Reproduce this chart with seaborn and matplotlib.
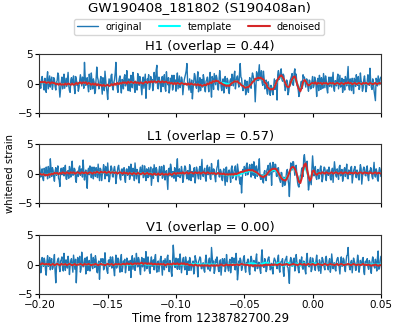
import numpy as np
import pandas as pd
import matplotlib
matplotlib.use("Agg")
import matplotlib.pyplot as plt
import seaborn as sns

title = "GW190408_181802 (S190408an)"
detectors = ["H1", "L1", "V1"]
overlaps = [0.44, 0.57, 0.00]
gps_ref = "1238782700.29"
t_start, t_end = -0.20, 0.05
xticks = [-0.20, -0.15, -0.10, -0.05, 0.00, 0.05]
yticks = [-5, 0, 5]

# original strain: samples on the whole-ms grid and on the half-ms points between them
h1_original = [
    0.4, -0.8, 1.2, -0.3, 0.9, -1.5, 2.0, 0.2, -0.6, 1.1,
    -0.2, 0.7, -1.1, 0.5, 1.4, -2.3, 0.3, -0.9, 1.6, 0.1,
    -0.5, 1.9, -1.2, 0.6, -0.1, 1.3, -1.7, 0.8, 0.2, -0.7,
    1.5, -0.4, 0.9, 3.6, -0.3, 1.0, -1.4, 0.5, 1.8, -0.9,
    0.3, -1.3, 2.8, 0.6, -0.5, 1.2, -1.8, 0.4, 2.1, -0.6,
    -2.7, 0.8, -0.2, 1.6, -1.1, 0.7, 3.6, -0.8, 0.2, 1.3,
    -1.6, 0.5, 1.0, -0.4, 2.2, -1.2, 0.3, 1.4, -0.7, 0.9,
    -1.5, 0.2, 1.7, -0.3, 0.6, -1.9, 1.1, 0.4, -2.5, 0.8,
    1.5, -0.6, 0.3, -1.2, 1.9, 0.1, 3.1, -0.9, 0.5, -1.4,
    1.2, 0.6, -0.8, 2.0, -0.2, -1.6, 0.9, 1.4, -0.5, 0.3,
    -1.3, 1.8, 0.2, -0.7, 1.1, -1.9, 0.6, 1.6, 3.4, -0.4,
    0.8, -1.5, -2.6, 0.5, 1.3, -0.8, 2.0, -0.3, -1.2, 0.7,
    1.5, -0.9, 0.4, 1.1, -1.4, 1.9, -2.3, 0.6, 1.7, -0.2,
    0.9, -1.1, 2.2, -0.5, 0.3, -1.6, 1.2, -0.8, 0.5, -1.7,
    0.8, 1.6, -0.4, 2.1, 0.2, 1.3, -0.6, 3.4, 0.9, -1.2,
    -0.3, -1.9, 0.4, -1.5, 1.0, -0.8, 1.8, 0.6, -3.1, 2.0,
    0.5, 3.2, 1.4, 0.2, 2.1, -0.9, 0.6, -1.8, -0.4, -2.0,
    -0.6, -1.9, 0.8, 0.3, -2.8, 2.2, 0.9, 2.5, 0.4, 1.3,
    -1.2, 0.6, -1.9, -0.2, 0.8, 1.7, -0.3, 2.5, 1.6, -0.5,
    -2.2, -0.9, 0.4, 1.5, 1.1, -0.6, 0.7, -1.3, 0.5, -0.8,
    1.2, -0.4, 0.6, -2.2, 0.9, 1.4, -1.0, 0.3, 1.7, -0.7,
    0.5, -1.6, 1.1, 0.2, -0.6, 1.9, -1.3, 0.4, 0.8, -0.9,
    1.4, -0.2, -1.5, 0.7, 1.2, -0.4, 2.9, -1.1, 0.3, 0.9,
    -1.7, 0.6, 1.5, -0.3, -1.0, 1.8, 0.2, -0.8, 1.3, -1.4,
    0.4, 1.0, 2.6, -0.6, 0.8, -1.2, -2.9, 0.5, 1.3, -0.2,
    1.1,
]
h1_original_mid = [
    -0.3, 0.6, 0.5, -1.1, -0.2, 0.8, -0.9, 1.3, 0.4, -1.0,
    1.0, -0.5, 0.2, 1.8, -0.7, -1.0, 1.1, 0.5, -0.8, 0.9,
    0.7, -0.4, -1.5, 1.0, 0.4, -0.6, 1.2, -0.3, -1.3, 0.5,
    0.6, 1.1, -0.8, 1.2, 0.7, -0.5, 1.6, -1.0, 0.3, 0.8,
    -1.7, 0.9, 1.1, -0.9, 0.5, -0.3, 1.0, -1.2, 0.7, -1.4,
    -0.5, 0.3, 1.4, -0.6, 0.2, 1.8, 0.5, -1.5, 0.9, -0.4,
    0.7, -0.9, 1.5, 0.3, -0.5, 0.8, -1.3, 0.6, 1.9, -0.7,
    0.4, -1.1, 0.9, 1.2, -0.6, 0.3, -0.8, 1.6, -0.3, 0.5,
    -1.0, 1.2, 0.7, -0.4, 0.6, 2.3, -0.6, 1.1, -0.2, 0.9,
    -0.5, 1.5, -1.3, 0.4, 1.0, -0.7, 0.2, -1.1, 1.4, 0.6,
    0.5, -0.9, 1.3, -0.2, 0.7, -0.6, 1.1, 2.2, 0.3, -1.1,
    -0.4, 0.6, -0.9, 1.7, -0.3, 0.8, -1.4, 1.0, 0.2, -0.6,
    0.8, -1.4, 0.6, -0.3, 0.9, -0.5, 1.2, -1.0, 0.7, 1.4,
    -0.6, 0.5, 1.0, -1.2, 0.8, -0.4, -0.3, 0.9, -1.2, 0.4,
    -0.3, 0.7, 1.4, -0.9, 1.0, 0.2, 1.8, 1.1, -0.4, -0.9,
    0.6, -1.3, -0.8, 0.2, -0.4, 0.9, 1.3, -0.2, -0.5, 1.4,
    1.9, 0.6, 2.2, -0.3, 0.9, -0.4, -1.2, 0.3, -1.6, -0.3,
    -1.4, -0.5, -1.0, 0.6, 1.5, 0.7, 1.9, 0.8, 1.6, -0.3,
    -0.6, 0.3, -1.4, 0.5, 1.2, -0.2, 1.9, 0.9, -0.2, -1.1,
    -1.6, 0.3, -0.8, 1.0, 0.2, 0.8, -0.5, 0.6, -0.9, 0.4,
    -0.7, 1.1, -0.3, 0.5, -1.2, 0.6, 1.0, -0.8, 0.4, 1.3,
    -0.9, 0.2, -0.5, 1.1, 0.7, -0.8, 0.5, -0.4, 1.6, 0.3,
    -0.6, 0.9, -0.2, -1.1, 0.6, 1.3, -0.5, 0.8, -1.2, 0.2,
    0.9, -0.5, 0.4, 1.2, -0.7, 0.5, -1.3, 0.7, 0.2, -0.8,
    1.5, -0.3, 0.6, -1.0, 0.3, -2.0, 0.9, -0.4, 0.6, 0.8,
]
h1_template = [
    0.2, 0.2, 0.2, 0.2, 0.2, 0.2, 0.2, 0.1, 0.1, 0.1,
    0.1, 0.0, 0.0, 0.0, -0.1, -0.1, -0.1, -0.1, -0.1, -0.1,
    -0.1, -0.1, -0.1, -0.1, -0.1, -0.1, -0.1, 0.0, 0.0, 0.0,
    0.1, 0.1, 0.1, 0.1, 0.1, 0.0, 0.0, 0.0, -0.1, -0.1,
    -0.1, -0.1, -0.2, -0.2, -0.2, -0.2, -0.3, -0.3, -0.3, -0.3,
    -0.3, -0.3, -0.3, -0.2, -0.2, -0.1, -0.1, 0.0, 0.0, 0.0,
    0.1, 0.1, 0.1, 0.1, 0.1, 0.2, 0.2, 0.2, 0.2, 0.2,
    0.2, 0.2, 0.1, 0.1, 0.1, 0.1, 0.1, 0.2, 0.2, 0.2,
    0.2, 0.3, 0.3, 0.3, 0.3, 0.3, 0.3, 0.3, 0.3, 0.3,
    0.3, 0.3, 0.3, 0.2, 0.2, 0.1, 0.1, 0.0, 0.0, 0.0,
    0.0, 0.0, 0.0, 0.0, 0.0, 0.0, 0.0, -0.1, -0.1, -0.1,
    -0.1, -0.1, -0.1, -0.1, -0.2, -0.2, -0.2, -0.2, -0.3, -0.3,
    -0.3, -0.3, -0.2, -0.1, 0.0, 0.1, 0.2, 0.3, 0.4, 0.4,
    0.4, 0.3, 0.2, 0.1, 0.1, 0.1, 0.0, 0.0, -0.1, -0.1,
    0.0, 0.1, 0.2, 0.3, 0.4, 0.3, 0.2, 0.0, -0.2, -0.4,
    -0.5, -0.6, -0.6, -0.5, -0.3, 0.0, 0.3, 0.5, 0.7, 0.8,
    0.9, 0.9, 0.9, 0.8, 0.6, 0.3, -0.1, -0.5, -0.8, -0.9,
    -0.9, -0.8, -0.5, -0.1, 0.4, 0.8, 1.1, 1.2, 1.0, 0.6,
    0.1, -0.3, -0.5, -0.4, 0.1, 0.6, 0.9, 0.8, 0.4, -0.2,
    -0.7, -0.9, -0.6, 0.0, 0.4, 0.4, 0.1, -0.2, -0.2, -0.1,
    0.0, 0.1, 0.1, 0.0, 0.0, 0.0, 0.0, 0.0, 0.0, 0.0,
    0.0, 0.0, 0.0, 0.0, 0.0, 0.0, 0.0, 0.0, 0.0, 0.0,
    0.0, 0.0, 0.0, 0.0, 0.0, 0.0, 0.0, 0.0, 0.0, 0.0,
    0.0, 0.0, 0.0, 0.0, 0.0, 0.0, 0.0, 0.0, 0.0, 0.0,
    0.0, 0.0, 0.0, 0.0, 0.0, 0.0, 0.0, 0.0, 0.0, 0.0,
    0.0,
]
h1_denoised = [
    0.3, 0.2, 0.3, 0.2, 0.3, 0.1, 0.2, 0.2, 0.0, 0.2,
    0.1, 0.1, -0.1, 0.0, -0.2, 0.0, -0.2, -0.1, -0.2, 0.0,
    -0.2, 0.0, -0.1, -0.2, 0.0, -0.2, -0.1, 0.1, -0.1, 0.1,
    0.2, 0.0, 0.2, 0.1, 0.2, -0.1, 0.1, 0.0, -0.2, 0.0,
    -0.2, 0.0, -0.3, -0.1, -0.3, -0.2, -0.4, -0.2, -0.4, -0.3,
    -0.2, -0.4, -0.3, -0.1, -0.3, 0.0, -0.2, 0.1, -0.1, 0.1,
    0.0, 0.2, 0.1, 0.2, 0.0, 0.3, 0.1, 0.3, 0.2, 0.1,
    0.3, 0.1, 0.2, 0.0, 0.2, 0.1, 0.0, 0.2, 0.3, 0.1,
    0.3, 0.2, 0.4, 0.2, 0.4, 0.3, 0.2, 0.4, 0.3, 0.2,
    0.4, 0.2, 0.3, 0.3, 0.1, 0.2, 0.0, 0.1, -0.1, 0.1,
    -0.1, 0.1, 0.0, -0.1, 0.1, 0.0, -0.1, 0.0, -0.2, 0.0,
    -0.2, 0.0, -0.1, -0.2, -0.1, -0.3, -0.1, -0.3, -0.2, -0.4,
    -0.3, -0.2, -0.3, 0.0, -0.1, 0.2, 0.1, 0.4, 0.3, 0.5,
    0.4, 0.4, 0.1, 0.1, -0.1, -0.2, -0.3, -0.4, -0.3, -0.4,
    -0.1, 0.1, 0.2, 0.4, 0.3, 0.4, 0.1, 0.0, -0.3, -0.4,
    -0.6, -0.7, -0.6, -0.6, -0.3, -0.1, 0.3, 0.4, 0.8, 0.8,
    1.0, 0.9, 1.0, 0.8, 0.7, 0.2, 0.0, -0.6, -0.8, -1.0,
    -0.9, -1.0, -0.6, -0.1, 0.5, 0.9, 1.2, 1.4, 1.1, 0.7,
    0.1, -0.4, -0.6, -0.5, 0.2, 0.7, 1.1, 1.2, 0.5, -0.3,
    -0.9, -1.3, -0.7, 0.2, 0.6, 0.4, 0.0, -0.3, -0.2, 0.0,
    0.1, 0.0, 0.2, -0.1, 0.1, 0.0, 0.1, -0.1, 0.1, 0.0,
    0.1, -0.1, 0.0, 0.1, 0.0, 0.1, -0.1, 0.0, 0.1, 0.0,
    -0.1, 0.1, 0.0, -0.1, 0.1, 0.0, 0.2, 0.0, 0.1, -0.1,
    0.0, 0.1, -0.1, 0.0, 0.1, 0.0, -0.1, 0.1, 0.0, 0.1,
    0.0, -0.1, 0.1, 0.0, -0.1, 0.0, 0.1, -0.1, 0.0, 0.1,
    0.0,
]

l1_original = [
    1.5, -0.6, 0.8, -1.2, 0.3, 1.1, -0.9, 0.4, 2.5, -0.5,
    0.6, -1.3, 1.0, 0.2, -0.8, -2.2, 0.9, 0.3, -0.4, 1.4,
    -1.0, 0.5, 1.2, -0.6, 2.1, -0.2, 0.7, -1.5, 0.4, 1.0,
    -0.3, 0.8, 2.3, -1.1, 0.6, -2.5, 0.9, 1.3, -0.7, 0.2,
    1.1, -0.5, 0.4, 1.6, -1.2, 0.7, -0.2, 1.5, -0.9, 0.3,
    1.8, -1.4, 0.5, 0.9, -0.6, 1.2, -1.7, 0.2, 1.4, -0.8,
    0.6, -0.3, 1.0, -1.5, 0.8, 0.1, -1.0, 1.6, -0.4, 0.5,
    1.8, -0.9, 0.3, -1.6, 1.1, 0.4, -0.7, 1.3, -1.2, 0.6,
    1.0, -0.5, -2.0, 0.8, 1.5, -0.3, 0.6, -1.4, 1.2, 0.2,
    -0.8, 1.4, -1.1, 0.5, -2.7, 0.9, 1.6, -0.6, 0.3, 1.0,
    -1.3, 2.5, 0.1, -0.7, 1.2, -1.5, 0.6, 1.0, -0.9, 0.4,
    1.5, -1.2, 0.3, 0.8, -1.6, 1.1, -0.4, 0.7, -1.0, 2.4,
    -0.5, 0.9, -1.3, 1.4, 0.2, -0.8, 1.7, -0.2, 0.6, -1.4,
    1.0, 2.3, -0.6, 0.4, -1.2, 0.8, -2.0, 1.1, -0.3, 0.6,
    -1.5, 1.3, -0.4, 0.9, -1.1, 1.6, -0.2, -1.8, -3.3, 0.7,
    1.2, -0.3, 1.8, 0.1, 1.5, -0.6, 1.0, 2.0, -0.8, 1.3,
    0.4, 2.5, -1.0, -0.2, -1.6, 0.5, -1.2, 0.9, -0.3, 1.8,
    -2.0, 1.9, 0.6, 1.5, -0.5, 1.0, -1.1, 0.2, -2.2, -0.6,
    -1.9, 0.4, -1.0, -3.9, 1.8, 0.6, 2.0, -0.3, 1.4, -1.5,
    -2.3, -0.4, 0.8, -0.5, 3.2, 1.3, 2.1, -2.8, -0.7, -1.9,
    3.0, -0.4, 1.2, -1.0, 0.7, -0.6, 1.3, -1.4, 0.5, 0.9,
    -1.2, 0.6, 1.1, -0.8, 0.3, -1.5, 2.0, -0.3, 0.8, -1.0,
    1.4, 0.2, -1.3, 0.7, -0.5, 1.6, -0.9, 0.4, 1.0, -1.6,
    0.5, 1.2, -0.7, 0.3, -1.1, 1.5, -1.8, 0.6, 0.9, -0.4,
    1.3, -1.2, 0.2, 0.8, -0.9, 1.9, -0.6, 0.4, -1.3, 1.0,
    -0.5,
]
l1_original_mid = [
    0.5, -0.2, -0.8, 0.9, -0.4, 0.2, 1.2, -0.7, 0.8, 1.0,
    -0.6, 0.4, -0.3, 1.3, -1.1, 0.5, -0.2, 1.0, 0.6, -0.9,
    0.3, -0.8, 0.6, 1.1, -0.3, 0.9, -1.0, 0.2, -0.5, 1.3,
    0.7, -0.6, 0.4, 0.2, -1.3, 0.5, -0.2, 0.8, 1.1, -0.9,
    0.6, 1.0, -0.7, 0.3, 0.9, -1.2, 0.4, 0.6, 1.2, -0.4,
    0.2, -0.9, 1.3, -0.5, 0.7, 0.3, -0.6, 1.1, 0.4, -1.1,
    0.8, 0.5, -0.9, 0.6, -0.3, 1.2, -0.5, 0.3, 0.9, -1.2,
    0.4, 0.7, -1.0, 0.5, -0.2, 1.4, -0.6, 0.2, 0.8, -0.7,
    0.3, 1.1, -0.5, -0.8, 0.6, 1.0, -0.9, 0.4, -0.3, 1.2,
    -0.6, 0.5, 0.2, -1.0, 0.7, -0.4, 1.0, 0.3, -0.8, 0.6,
    1.1, -0.5, 0.8, -0.3, 0.4, -0.8, 1.3, -0.2, 0.5, -1.1,
    0.9, 0.3, -0.6, 1.0, -0.4, 0.6, -0.9, 1.2, 0.7, -0.3,
    0.5, -0.7, 0.9, -0.2, 1.1, -1.0, 0.4, 0.8, -0.6, 0.3,
    1.4, -0.5, 0.7, -0.9, 0.3, -0.6, 1.0, -1.4, 0.5, -0.2,
    0.9, -0.8, 0.4, 1.3, -0.5, 0.7, -1.2, -0.6, -1.0, 0.2,
    0.8, 1.4, -0.2, 1.0, 0.6, 1.6, -0.3, 0.9, 1.2, -0.5,
    1.0, -0.4, -0.9, -1.3, 0.2, -0.8, 0.5, 1.4, -0.2, 0.6,
    1.2, 0.3, 1.6, -0.4, 0.9, -0.7, -1.5, 0.1, -1.3, -2.0,
    -0.8, 0.7, -1.8, -0.9, 1.3, 2.0, 0.8, 1.1, -0.4, -2.1,
    -1.5, -0.2, 1.0, 2.6, 2.0, 0.8, -0.6, -1.9, -1.3, 0.8,
    1.3, 0.2, -0.6, 0.5, -0.9, 0.8, 0.3, -0.7, 1.1, -0.4,
    0.6, -0.3, 0.5, -1.1, 0.9, 0.4, 0.8, -0.6, 0.2, 1.1,
    -0.4, 0.7, -0.6, 1.0, 0.3, -0.8, 0.6, -0.2, 1.2, -0.5,
    0.8, -0.3, 0.6, -0.7, 0.4, 0.9, -0.5, 1.1, -0.3, 0.7,
    -0.6, 0.4, 1.0, -0.5, 0.6, -0.2, 0.8, -1.0, 0.3, 0.6,
]
l1_template = [
    -0.1, -0.1, -0.1, -0.2, -0.2, -0.2, -0.2, -0.1, -0.1, 0.0,
    0.0, 0.0, 0.0, 0.0, 0.0, 0.1, 0.1, 0.1, 0.1, 0.1,
    0.1, 0.1, 0.1, 0.1, 0.1, 0.1, 0.1, 0.1, 0.1, 0.1,
    0.1, 0.1, 0.1, 0.1, 0.1, 0.1, 0.1, 0.1, 0.1, 0.1,
    0.1, 0.2, 0.2, 0.2, 0.2, 0.2, 0.2, 0.2, 0.2, 0.2,
    0.2, 0.2, 0.2, 0.2, 0.2, 0.2, 0.1, 0.1, 0.1, 0.1,
    0.1, 0.1, 0.1, 0.0, 0.0, 0.0, 0.0, 0.0, 0.0, 0.0,
    0.0, 0.0, 0.0, 0.0, 0.0, 0.0, 0.0, 0.0, 0.0, 0.0,
    0.0, 0.0, 0.0, -0.1, -0.1, -0.1, -0.1, -0.1, -0.1, -0.1,
    -0.1, -0.1, -0.1, -0.1, -0.1, -0.1, -0.1, -0.1, 0.0, 0.0,
    0.0, 0.0, 0.0, 0.0, 0.0, 0.1, 0.1, 0.1, 0.1, 0.1,
    0.1, 0.1, 0.1, 0.1, 0.1, 0.1, 0.1, 0.1, 0.1, 0.1,
    0.1, 0.1, 0.1, 0.1, 0.1, 0.1, 0.1, 0.0, 0.0, 0.0,
    0.0, 0.0, -0.1, -0.1, -0.1, -0.2, -0.2, -0.2, -0.3, -0.3,
    -0.3, -0.3, -0.3, -0.3, -0.3, -0.2, -0.2, -0.1, 0.0, 0.1,
    0.2, 0.3, 0.3, 0.4, 0.4, 0.4, 0.4, 0.3, 0.2, 0.1,
    -0.1, -0.2, -0.3, -0.4, -0.4, -0.3, -0.2, 0.0, 0.2, 0.4,
    0.5, 0.6, 0.6, 0.5, 0.3, 0.0, -0.3, -0.6, -0.8, -0.9,
    -0.9, -0.7, -0.3, 0.2, 0.6, 0.9, 0.9, 0.6, 0.1, -0.5,
    -1.0, -1.1, -0.5, 0.4, 1.0, 0.9, 0.2, -0.5, -0.8, -0.5,
    0.1, 0.3, 0.1, -0.1, 0.0, 0.0, 0.1, 0.1, 0.1, 0.1,
    0.1, 0.1, 0.1, 0.1, 0.1, 0.1, 0.1, 0.1, 0.1, 0.1,
    0.1, 0.1, 0.1, 0.1, 0.1, 0.1, 0.1, 0.1, 0.1, 0.1,
    0.1, 0.1, 0.1, 0.1, 0.1, 0.1, 0.1, 0.1, 0.1, 0.1,
    0.1, 0.1, 0.1, 0.1, 0.1, 0.1, 0.1, 0.1, 0.1, 0.1,
    0.1,
]
l1_denoised = [
    0.0, -0.1, -0.2, -0.1, -0.3, -0.2, -0.3, -0.1, -0.2, 0.0,
    -0.1, 0.1, 0.0, 0.1, -0.1, 0.1, 0.0, 0.2, 0.1, 0.0,
    0.2, 0.1, 0.0, 0.2, 0.1, 0.2, 0.0, 0.1, 0.2, 0.1,
    0.0, 0.2, 0.1, 0.1, 0.2, 0.0, 0.1, 0.2, 0.1, 0.0,
    0.2, 0.1, 0.3, 0.2, 0.1, 0.3, 0.2, 0.2, 0.3, 0.1,
    0.2, 0.3, 0.1, 0.2, 0.2, 0.1, 0.2, 0.0, 0.1, 0.2,
    0.1, 0.0, 0.2, 0.0, 0.1, -0.1, 0.1, 0.0, -0.1, 0.1,
    0.0, -0.1, 0.1, 0.0, -0.1, 0.0, 0.1, -0.1, 0.0, 0.1,
    -0.1, 0.0, -0.1, -0.2, 0.0, -0.1, -0.2, 0.0, -0.2, -0.1,
    0.0, -0.2, -0.1, -0.1, -0.2, 0.0, -0.1, -0.2, 0.0, 0.1,
    -0.1, 0.1, 0.0, 0.1, 0.0, 0.2, 0.0, 0.1, 0.2, 0.0,
    0.1, 0.2, 0.1, 0.0, 0.2, 0.1, 0.1, 0.2, 0.0, 0.1,
    0.2, 0.1, 0.0, 0.2, 0.1, 0.0, 0.1, 0.0, 0.1, -0.1,
    0.0, 0.1, -0.1, 0.0, -0.1, 0.0, -0.2, -0.1, -0.2, -0.1,
    -0.2, -0.1, -0.2, 0.0, -0.1, 0.0, 0.1, 0.2, 0.3, 0.3,
    0.4, 0.5, 0.5, 0.6, 0.6, 0.5, 0.6, 0.4, 0.3, 0.2,
    0.0, -0.2, -0.4, -0.5, -0.6, -0.4, -0.3, 0.0, 0.3, 0.5,
    0.7, 0.8, 0.8, 0.8, 0.5, 0.1, -0.3, -0.7, -1.0, -1.1,
    -1.2, -0.9, -0.4, 0.2, 0.8, 1.1, 1.1, 0.8, 0.2, -0.6,
    -1.4, -1.6, -0.8, 0.6, 1.5, 1.7, 0.6, -0.5, -1.2, -0.8,
    0.4, 0.5, 0.0, -0.2, 0.0, 0.1, 0.0, 0.2, 0.1, 0.0,
    0.2, 0.1, 0.0, 0.1, 0.2, 0.0, 0.1, 0.2, 0.1, 0.0,
    0.1, 0.2, 0.0, 0.1, 0.2, 0.1, 0.0, 0.2, 0.1, 0.1,
    0.0, 0.2, 0.1, 0.0, 0.1, 0.2, 0.1, 0.0, 0.2, 0.1,
    0.1, 0.0, 0.2, 0.1, 0.0, 0.1, 0.2, 0.0, 0.1, 0.1,
    0.0,
]

v1_original = [
    0.9, -1.4, 1.2, -0.3, 0.6, -1.8, 1.5, 0.2, -0.9, 1.0,
    -0.5, 1.7, -3.1, 0.4, 1.1, -1.2, 0.8, -0.6, 1.9, -1.0,
    0.3, 1.4, -1.7, 0.7, -0.2, 1.6, -0.8, -3.1, 1.2, 0.5,
    -1.3, 2.1, -0.4, 0.9, -1.6, 1.3, 0.1, -1.1, 1.8, -0.7,
    0.6, 1.5, -1.2, 0.2, -2.5, 1.0, 0.4, -0.9, 2.0, -0.3,
    -1.5, 0.8, 1.3, -0.6, 0.5, -1.9, 1.6, -0.2, 0.9, -1.3,
    1.7, -0.5, 0.3, -1.4, 1.1, 0.6, -0.8, -2.2, 1.5, 0.2,
    -1.0, 1.9, -0.4, 0.8, -1.7, 1.2, 0.5, -1.1, 2.2, -0.6,
    0.4, -1.5, 1.3, 0.1, -0.9, 1.7, -1.3, 0.6, -0.2, 1.4,
    -1.8, 0.7, 1.0, -0.5, 1.6, -1.2, 0.3, -2.0, 3.3, -0.4,
    1.1, -0.8, 0.5, 1.8, -1.4, 0.9, -0.3, 1.3, -1.7, 0.6,
    1.2, -1.0, 0.2, -1.6, 1.5, 0.4, -2.1, 0.8, 1.1, -0.7,
    0.3, -1.3, 1.6, -0.5, 0.7, -1.1, 2.9, -0.2, -1.5, 0.9,
    1.3, -0.9, 0.4, -1.8, 1.0, 0.2, -1.2, 1.7, -0.6, 0.5,
    -1.4, 1.2, 0.3, -0.8, 1.9, -2.6, 0.6, 1.1, -1.0, 0.4,
    1.5, -1.3, 0.2, 0.9, -1.7, 1.4, -0.3, 0.7, -1.1, 1.8,
    -0.6, 0.3, -1.5, 2.5, -0.4, 1.0, -1.2, 0.6, 1.3, -0.9,
    0.2, -1.6, 1.1, 0.5, -0.7, 1.6, -1.3, 0.4, 1.0, -2.0,
    0.8, 1.4, -0.5, -3.2, 1.2, -0.3, 0.9, -1.1, 1.7, 0.1,
    -1.4, 0.6, 1.3, -0.8, 0.4, -1.6, 1.9, -0.2, 0.7, -1.2,
    1.1, 0.3, -1.0, 1.6, -0.6, 0.8, -1.5, 1.2, 0.2, -0.9,
    1.4, -0.4, 0.6, -1.3, 1.8, -0.7, 0.3, -1.1, 1.0, 0.5,
    -1.6, 1.3, -0.2, 0.8, -1.2, 1.5, 2.9, -0.5, 0.4, -1.4,
    1.1, 0.2, -0.9, 1.6, -1.3, 0.7, -0.1, 1.2, -1.7, 0.6,
    1.0, -0.8, 0.4, -1.5, 1.3, -0.3, 0.9, -1.1, 2.3, -0.6,
    1.4,
]
v1_original_mid = [
    0.4, -0.6, 0.3, 1.1, -1.0, 0.5, -0.3, 1.2, 0.6, -0.8,
    0.7, -1.2, -0.5, 0.9, -0.4, 0.6, 1.3, -1.1, 0.2, 0.8,
    -0.6, 0.5, -0.2, 1.0, -1.3, 0.4, 0.9, -0.7, 0.3, 1.4,
    -0.8, 0.6, -0.3, 1.1, 0.5, -1.0, 0.7, -0.4, 0.2, 1.2,
    -0.5, 0.8, -1.4, 0.6, -0.2, 0.9, 1.0, -0.6, 0.4, -1.1,
    0.7, -0.3, 0.5, 1.3, -0.9, 0.2, -0.6, 1.1, -0.4, 0.8,
    -1.2, 0.6, 0.9, -0.5, 0.3, -1.0, 0.7, 0.4, -0.8, 1.1,
    -0.3, 0.6, 1.2, -0.9, 0.5, -0.4, 1.0, 0.2, -0.7, 1.3,
    -1.1, 0.5, -0.3, 0.8, 1.1, -0.6, 0.4, -1.2, 0.9, -0.2,
    0.6, -0.9, 0.3, 1.2, -0.4, 0.7, -1.3, 0.5, 1.6, -0.5,
    0.3, 1.0, -0.8, 0.4, -0.2, 1.2, -0.9, 0.6, 0.2, -1.0,
    0.8, -0.4, 0.6, -1.1, 0.9, -0.3, 0.5, 1.3, -0.7, 0.2,
    -1.0, 0.7, 0.4, -0.8, 1.1, -0.5, 1.4, 0.6, -0.9, 0.3,
    0.5, -1.2, 0.8, -0.4, 0.2, 1.0, -0.6, 0.3, -1.1, 0.9,
    -0.3, 0.6, 1.1, -0.9, 0.4, -1.5, 0.2, 0.7, -0.5, 1.2,
    -0.6, 0.3, 0.9, -1.1, 0.5, 0.8, -0.4, 0.2, 1.0, -0.7,
    0.4, -0.9, 1.2, 0.6, -0.5, 0.3, -0.8, 1.1, 0.2, -0.6,
    -0.9, 0.5, 0.8, -0.3, 1.0, -0.7, 0.4, 0.6, -1.2, 0.3,
    1.0, -0.4, -1.6, 0.5, 0.7, -0.2, 1.1, -0.6, 0.4, -0.9,
    0.8, 0.3, -0.5, 0.6, -1.0, 0.9, 0.2, -0.4, 1.2, -0.8,
    0.5, -0.6, 0.7, 0.3, -1.1, 0.4, -0.2, 0.9, -0.5, 1.1,
    0.3, -0.9, 1.0, -0.4, 0.6, 0.2, -0.8, 0.5, 1.2, -0.6,
    0.4, -0.3, 1.1, -0.7, 0.5, 1.6, 0.3, -0.9, 0.7, -0.2,
    0.6, -1.0, 0.4, 0.8, -0.5, 0.2, 0.9, -1.2, 0.5, 0.3,
    -0.4, 0.7, -1.0, 0.5, 0.9, -0.6, 0.3, 1.2, -0.8, 0.6,
]
v1_template = [
    0.0, 0.0, 0.0, 0.0, 0.0, 0.0, 0.0, 0.0, 0.0, 0.0,
    0.0, 0.0, 0.0, 0.0, 0.0, 0.0, 0.0, 0.0, 0.0, 0.0,
    0.0, 0.0, 0.0, 0.0, 0.0, 0.0, 0.0, 0.0, 0.0, 0.0,
    0.0, 0.0, 0.0, 0.0, 0.0, 0.0, 0.0, 0.0, 0.0, 0.0,
    0.0, 0.0, 0.0, 0.0, 0.0, 0.0, 0.0, 0.0, 0.0, 0.0,
    0.0, 0.0, 0.0, 0.0, 0.0, 0.0, 0.0, 0.0, 0.0, 0.0,
    0.0, 0.0, 0.0, 0.0, 0.0, 0.0, 0.0, 0.0, 0.0, 0.0,
    0.1, 0.1, 0.1, 0.1, 0.1, 0.1, 0.1, 0.1, 0.0, 0.0,
    0.0, 0.0, 0.0, 0.0, 0.0, 0.0, 0.0, 0.0, 0.0, 0.0,
    0.0, 0.0, 0.0, 0.0, 0.0, 0.0, 0.0, 0.0, 0.0, 0.0,
    0.0, 0.0, 0.0, 0.0, 0.0, 0.0, 0.0, 0.0, 0.0, 0.0,
    0.0, 0.0, 0.1, 0.1, 0.1, 0.1, 0.1, 0.0, 0.0, 0.0,
    0.0, 0.0, 0.0, 0.0, 0.0, 0.0, 0.0, 0.0, 0.0, 0.0,
    -0.1, -0.1, -0.1, -0.1, -0.1, -0.1, -0.1, -0.1, 0.0, 0.0,
    0.0, 0.0, 0.0, 0.0, 0.0, 0.0, 0.0, 0.0, 0.0, 0.0,
    0.0, 0.0, 0.1, 0.1, 0.2, 0.2, 0.2, 0.2, 0.1, 0.0,
    -0.1, -0.1, 0.0, 0.1, 0.2, 0.3, 0.3, 0.3, 0.2, 0.0,
    -0.1, -0.2, -0.1, 0.1, 0.2, 0.3, 0.2, 0.0, -0.2, -0.2,
    0.0, 0.2, 0.3, 0.2, 0.0, -0.2, -0.1, 0.1, 0.2, 0.1,
    -0.1, -0.2, 0.0, 0.2, 0.2, 0.0, -0.1, 0.0, 0.1, 0.1,
    0.2, 0.2, 0.2, 0.1, 0.0, 0.0, 0.0, 0.0, 0.0, 0.0,
    0.0, 0.0, 0.0, 0.0, 0.0, 0.0, 0.0, 0.0, 0.0, 0.0,
    0.0, 0.0, 0.0, 0.0, 0.0, 0.0, 0.0, 0.0, 0.0, 0.0,
    0.0, 0.0, 0.0, 0.0, 0.0, 0.0, 0.0, 0.0, 0.0, 0.0,
    0.0, 0.0, 0.0, 0.0, 0.0, 0.0, 0.0, 0.0, 0.0, 0.0,
    0.0,
]
v1_denoised = [
    0.1, 0.0, 0.2, 0.1, 0.0, 0.1, 0.0, 0.1, -0.1, 0.0,
    0.1, -0.1, 0.0, 0.1, 0.0, -0.1, 0.1, 0.0, 0.0, 0.1,
    -0.1, 0.0, 0.1, 0.0, -0.1, 0.0, 0.1, -0.1, 0.0, 0.0,
    0.1, 0.0, -0.1, 0.1, 0.0, 0.0, 0.1, 0.0, -0.1, 0.0,
    0.0, 0.1, 0.0, -0.1, 0.0, 0.1, 0.0, 0.0, -0.1, 0.0,
    0.1, 0.0, 0.0, 0.1, -0.1, 0.0, 0.1, 0.0, 0.1, 0.0,
    0.0, 0.1, 0.1, 0.0, 0.2, 0.1, 0.1, 0.2, 0.0, 0.1,
    0.2, 0.1, 0.2, 0.1, 0.2, 0.3, 0.1, 0.2, 0.2, 0.1,
    0.2, 0.1, 0.2, 0.0, 0.1, 0.1, 0.0, 0.1, 0.0, 0.1,
    0.0, 0.1, -0.1, 0.0, 0.1, 0.0, 0.1, 0.0, 0.2, 0.1,
    0.1, 0.2, 0.0, 0.1, 0.2, 0.1, 0.2, 0.0, 0.1, 0.0,
    -0.1, 0.0, -0.1, -0.2, 0.0, -0.1, -0.2, -0.1, -0.2, -0.1,
    -0.2, -0.1, -0.2, -0.1, -0.2, -0.2, -0.1, -0.2, -0.1, -0.2,
    -0.1, -0.2, -0.1, 0.0, -0.1, -0.2, -0.1, 0.0, -0.1, -0.1,
    0.0, -0.1, 0.0, -0.1, 0.0, 0.0, -0.1, 0.0, 0.1, 0.0,
    0.0, -0.1, 0.0, -0.1, -0.2, -0.1, -0.2, -0.2, -0.1, -0.2,
    -0.1, -0.2, -0.1, -0.2, -0.1, -0.1, 0.0, -0.1, 0.0, -0.1,
    0.0, -0.1, 0.0, 0.0, -0.1, 0.0, 0.1, 0.0, -0.1, 0.0,
    0.0, 0.1, 0.0, -0.1, 0.0, 0.0, 0.1, 0.0, 0.0, -0.1,
    0.0, 0.1, 0.0, 0.0, 0.1, -0.1, 0.0, 0.1, 0.0, 0.0,
    0.1, 0.0, -0.1, 0.0, 0.1, 0.0, 0.0, -0.1, 0.0, 0.1,
    0.0, -0.1, 0.0, 0.1, 0.0, 0.0, -0.1, 0.0, 0.1, -0.1,
    0.0, 0.1, 0.0, -0.1, 0.0, 0.0, 0.1, 0.0, -0.1, 0.0,
    0.1, 0.0, -0.1, 0.0, 0.0, -0.1, 0.0, 0.1, -0.1, 0.0,
    -0.1, 0.0, -0.1, -0.2, -0.1, -0.1, 0.0, -0.1, -0.2, -0.1,
    -0.1,
]

series = {
    "H1": (h1_original, h1_original_mid, h1_template, h1_denoised),
    "L1": (l1_original, l1_original_mid, l1_template, l1_denoised),
    "V1": (v1_original, v1_original_mid, v1_template, v1_denoised),
}


def merge_samples(whole, mid):
    out = np.empty(len(whole) + len(mid))
    out[0::2] = whole
    out[1::2] = mid
    return out


sns.set_style("ticks")
plt.rcParams["font.family"] = ["DejaVu Sans"]
for key in ["text.color", "axes.labelcolor", "xtick.color", "ytick.color", "axes.edgecolor"]:
    plt.rcParams[key] = "black"

fig = plt.figure(figsize=(3.98, 3.29), dpi=100)
left, width, height = 0.099, 0.858, 0.179
bottoms = [0.6565, 0.383, 0.1064]

axes = []
for k, (det, ov) in enumerate(zip(detectors, overlaps)):
    ax = fig.add_axes([left, bottoms[k], width, height])
    whole, mid, tmpl, den = series[det]
    orig = merge_samples(whole, mid)
    df_o = pd.DataFrame({"t": np.linspace(t_start, t_end, len(orig)), "v": orig})
    df_t = pd.DataFrame({"t": np.linspace(t_start, t_end, len(tmpl)), "v": tmpl})
    df_d = pd.DataFrame({"t": np.linspace(t_start, t_end, len(den)), "v": den})
    sns.lineplot(data=df_o, x="t", y="v", ax=ax, color="#1f77b4", lw=1.0,
                 estimator=None, sort=False, label="original", legend=False)
    sns.lineplot(data=df_t, x="t", y="v", ax=ax, color="cyan", lw=1.5,
                 estimator=None, sort=False, label="template", legend=False)
    sns.lineplot(data=df_d, x="t", y="v", ax=ax, color="#d62728", lw=1.5,
                 estimator=None, sort=False, label="denoised", legend=False)
    ax.set_xlim(t_start, t_end)
    ax.set_ylim(-5, 5)
    ax.set_yticks(yticks)
    ax.set_xticks(xticks)
    ax.set_title(f"{det} (overlap = {ov:.2f})", fontsize=9.4, pad=3)
    ax.tick_params(labelsize=7.5, length=3, width=0.8, pad=1.5)
    ax.set_ylabel("")
    for s in ax.spines.values():
        s.set_linewidth(0.8)
        s.set_color("#333333")
    if k < 2:
        ax.set_xticklabels([])
        ax.set_xlabel("")
    else:
        ax.set_xticklabels([f"{v:.2f}".replace("-", "\u2212") for v in xticks])
        ax.set_xlabel(f"Time from {gps_ref}", fontsize=8.5, labelpad=1)
    axes.append(ax)

axes[1].set_ylabel("whitened strain", fontsize=7.3, labelpad=2)

handles, labels = axes[0].get_legend_handles_labels()
leg = fig.legend(handles, labels, loc="upper center", bbox_to_anchor=(0.5, 0.943),
                 borderaxespad=0, ncol=3, fontsize=7, frameon=True, handlelength=2.2,
                 columnspacing=1.7, borderpad=0.3, handletextpad=0.75)
leg.set_zorder(1)
sup = fig.suptitle(title, fontsize=9.6, y=0.996)
sup.set_zorder(10)

fig.savefig("out.png", dpi=100)
